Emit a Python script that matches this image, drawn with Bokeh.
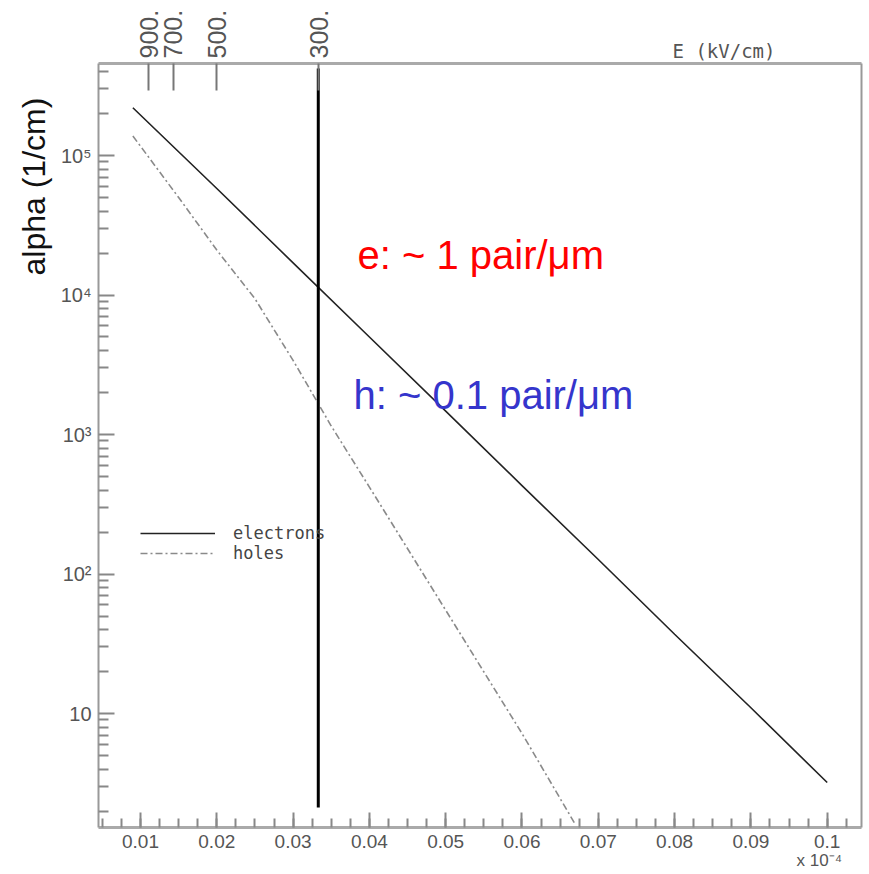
import math
from bokeh.plotting import figure
from bokeh.models import (Range1d, LinearAxis, LogAxis, FixedTicker, CustomJSTickFormatter,
                          Label, Legend, LegendItem)
from bokeh.embed import file_html
from bokeh.resources import INLINE

# ---- data (x in units of 1e-4 cm/V, i.e. 1/E) ----
electrons_x = [0.009, 0.02, 0.03, 0.04, 0.05, 0.06, 0.07, 0.08, 0.09, 0.1]
electrons_alpha = [2.2e5, 5.8e4, 1.7e4, 5.0e3, 1.47e3, 4.3e2, 1.27e2, 37, 11, 3.2]

holes_x = [0.009, 0.015, 0.02, 0.025, 0.03, 0.035, 0.04, 0.05, 0.06, 0.067]
holes_alpha = [1.38e5, 5.0e4, 2.1e4, 9.4e3, 3.4e3, 1.15e3, 4.2e2, 55, 7.2, 1.6]

marker_x = [0.0333, 0.0333]          # E = 300 kV/cm
marker_alpha = [2.12, 4.2e5]

x_ticks = [0.01, 0.02, 0.03, 0.04, 0.05, 0.06, 0.07, 0.08, 0.09, 0.1]
x_minor = [round(0.005 + 0.0025 * i, 4) for i in range(40)]
y_ticks = [10, 100, 1000, 1e4, 1e5]
e_field_ticks = [900, 700, 500, 300]   # kV/cm

# axis box (data limits of the drawn frame)
X_LO, X_HI = 0.0045, 0.10446
Y_LO, Y_HI = 1.5235, 4.566e5
y_minor = [m * 10 ** d for d in range(0, 6) for m in range(2, 10)
           if Y_LO <= m * 10 ** d <= Y_HI]

GRAY = "#999999"
TXT = "#555555"

p = figure(width=869, height=874,
           x_range=Range1d(-0.0083486, 0.105544), y_range=Range1d(0.70147, 1.2915e6),
           y_axis_type="log", output_backend="svg", toolbar_location=None,
           min_border_left=0, min_border_right=0, min_border_top=0,
           min_border_bottom=0)
p.xgrid.visible = False
p.ygrid.visible = False
p.outline_line_color = None
p.background_fill_color = "white"
p.border_fill_color = "white"

# bottom axis
xa = p.xaxis[0]
xa.fixed_location = Y_LO
xa.bounds = (X_LO, X_HI)
xa.ticker = FixedTicker(ticks=x_ticks, minor_ticks=x_minor)
xa.formatter = CustomJSTickFormatter(code="return tick.toFixed(2).replace(/0$/, '');")
xa.axis_line_color = "#aaaaaa"
xa.axis_line_width = 3
xa.major_tick_in = 15
xa.major_tick_out = 0
xa.minor_tick_in = 9
xa.minor_tick_out = 0
xa.major_tick_line_color = "#888888"
xa.minor_tick_line_color = "#888888"
xa.major_tick_line_width = 2
xa.minor_tick_line_width = 2
xa.major_label_standoff = 7
xa.major_label_text_font = "Liberation Sans"
xa.major_label_text_font_size = "19px"
xa.major_label_text_color = TXT

# left axis
ya = p.yaxis[0]
ya.fixed_location = X_LO
ya.bounds = (Y_LO, Y_HI)
ya.ticker = FixedTicker(ticks=y_ticks, minor_ticks=y_minor)
ya.formatter = CustomJSTickFormatter(code="""
const e = Math.round(Math.log10(tick));
const sup = {2: '\u00b2', 3: '\u00b3', 4: '\u2074', 5: '\u2075', 6: '\u2076'};
return e == 1 ? '10' : '10' + sup[e];
""")
ya.axis_line_color = GRAY
ya.axis_line_width = 2
ya.major_tick_in = 16
ya.major_tick_out = 0
ya.minor_tick_in = 10
ya.minor_tick_out = 0
ya.major_tick_line_color = "#888888"
ya.minor_tick_line_color = "#888888"
ya.major_tick_line_width = 2
ya.minor_tick_line_width = 2
ya.major_label_standoff = 7
ya.major_label_text_font = "Liberation Sans"
ya.major_label_text_font_size = "20px"
ya.major_label_text_color = TXT

# top axis: E (kV/cm)
top = LinearAxis(ticker=FixedTicker(ticks=[10.0 / e for e in e_field_ticks]),
                 formatter=CustomJSTickFormatter(code="return (10/tick).toFixed(0) + '.';"))
top.fixed_location = Y_HI
top.bounds = (X_LO, X_HI)
top.axis_line_color = "#aaaaaa"
top.axis_line_width = 3
top.major_tick_in = 27
top.major_tick_out = 0
top.minor_tick_in = 0
top.minor_tick_out = 0
top.major_tick_line_color = "#777777"
top.major_tick_line_width = 2
top.major_label_orientation = math.pi / 2
top.major_label_standoff = 5
top.major_label_text_font = "Liberation Sans"
top.major_label_text_font_size = "25px"
top.major_label_text_color = TXT
p.add_layout(top, "above")

# right frame side
right = LogAxis(ticker=FixedTicker(ticks=[]))
right.fixed_location = X_HI
right.bounds = (Y_LO, Y_HI)
right.axis_line_color = GRAY
right.axis_line_width = 2
right.major_tick_in = 0
right.major_tick_out = 0
right.minor_tick_in = 0
right.minor_tick_out = 0
right.major_label_text_alpha = 0
p.add_layout(right, "right")

# curves
r_e = p.line(electrons_x, electrons_alpha, line_color="#222222", line_width=1.6)
r_h = p.line(holes_x, holes_alpha, line_color="#8a8a8a", line_width=1.6,
             line_dash="7 3 2 3")
p.line(marker_x, marker_alpha, line_color="black", line_width=3)

legend = Legend(items=[LegendItem(label="electrons", renderers=[r_e]),
                       LegendItem(label="holes", renderers=[r_h])],
                location=(140, 311), glyph_width=75, glyph_height=20,
                label_height=20, spacing=0, padding=0, margin=0,
                label_standoff=18, label_text_font="DejaVu Sans Mono",
                label_text_font_size="17px", label_text_color="#444444",
                background_fill_alpha=0, border_line_alpha=0)
p.add_layout(legend)

# texts (screen units: from bottom-left of the canvas)
p.add_layout(Label(x=357, y=620, x_units="screen", y_units="screen",
                   text="e: ~ 1 pair/\u03bcm", text_color="#ff0000",
                   text_font="Liberation Sans", text_font_size="40px",
                   text_baseline="alphabetic", text_align="left"))
p.add_layout(Label(x=353, y=480, x_units="screen", y_units="screen",
                   text="h: ~ 0.1 pair/\u03bcm", text_color="#3535cc",
                   text_font="Liberation Sans", text_font_size="40px",
                   text_baseline="alphabetic", text_align="left"))
p.add_layout(Label(x=33, y=599, x_units="screen", y_units="screen",
                   text="alpha (1/cm)", angle=math.pi / 2, text_color="#111111",
                   text_font="Liberation Sans", text_font_size="32px",
                   text_baseline="alphabetic", text_align="left"))
p.add_layout(Label(x=672, y=824, x_units="screen", y_units="screen",
                   text="E (kV/cm)", text_color=TXT,
                   text_font="DejaVu Sans Mono", text_font_size="19px",
                   text_baseline="alphabetic", text_align="left"))
p.add_layout(Label(x=796, y=14, x_units="screen", y_units="screen",
                   text="x 10\u207b\u2074", text_color=TXT,
                   text_font="Liberation Sans", text_font_size="17px",
                   text_baseline="alphabetic", text_align="left"))

open("out.html", "w").write(file_html(p, INLINE))
